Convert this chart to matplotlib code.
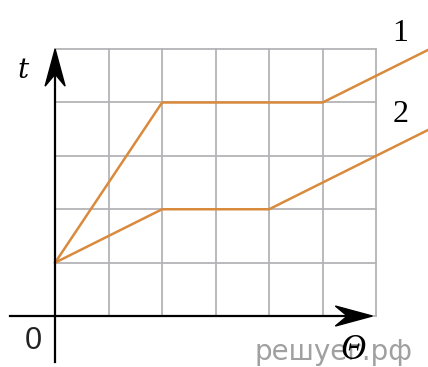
import numpy as np
import matplotlib.pyplot as plt
import matplotlib.transforms as mtransforms
from matplotlib.patches import Polygon

# данные графиков (клетки сетки)
line1_x = [0, 2, 5, 7]
line1_t = [1, 4, 4, 5]
line2_x = [0, 2, 4, 7]
line2_t = [1, 2, 2, 3.5]
grid_cols = 6
grid_rows = 5

orange = '#d98a3c'

fig = plt.figure(figsize=(4.28, 3.67), dpi=100)
ax = fig.add_axes([0, 0, 1, 1])
ax.set_xlim(-1.03, 6.97)
ax.set_ylim(-0.955, 5.92)
ax.axis('off')

# сетка
for i in range(grid_cols + 1):
    ax.plot([i, i], [0, grid_rows], color='#b4b4b8', lw=1.3, zorder=1)
for j in range(grid_rows + 1):
    ax.plot([0, grid_cols], [j, j], color='#b4b4b8', lw=1.3, zorder=1)

ax.plot(line1_x, line1_t, color=orange, lw=1.8, zorder=3)
ax.plot(line2_x, line2_t, color=orange, lw=1.8, zorder=3)


def stealth(tx, ty, angle):
    # наконечник стрелки, размеры в дюймах (1 px = 0.01)
    pts = np.array([[0, 0], [-0.37, 0.10], [-0.25, 0], [-0.37, -0.10]])
    c, s = np.cos(angle), np.sin(angle)
    pts = pts @ np.array([[c, s], [-s, c]])
    tr = fig.dpi_scale_trans + mtransforms.ScaledTranslation(tx, ty, ax.transData)
    ax.add_patch(Polygon(pts, closed=True, color='black', transform=tr, zorder=5))


# оси
ax.plot([0, 0], [-0.86, 4.8], color='black', lw=1.6, zorder=4)
ax.plot([-0.84, 5.75], [0, 0], color='black', lw=1.6, zorder=4)
stealth(0, 5.0, np.pi / 2)
stealth(5.93, 0, 0)

ax.text(-0.6, 4.6, 't', fontsize=20, family='DejaVu Serif', style='italic', ha='center', va='center')
ax.text(-0.41, -0.47, '0', fontsize=22, family='Liberation Sans', ha='center', va='center', color='#222222')
ax.text(6.45, 5.3, '1', fontsize=23, family='Liberation Serif', ha='center', va='center')
ax.text(6.46, 3.78, '2', fontsize=23, family='Liberation Serif', ha='center', va='center')
ax.text(5.2, -0.68, 'решуег.рф', fontsize=20, family='DejaVu Sans', color='#a0a0a0',
        ha='center', va='center', zorder=2)
ax.text(5.57, -0.64, 'Θ', fontsize=25, family='Liberation Serif', style='italic',
        ha='center', va='center', zorder=5)

fig.savefig('out.png', dpi=100)
